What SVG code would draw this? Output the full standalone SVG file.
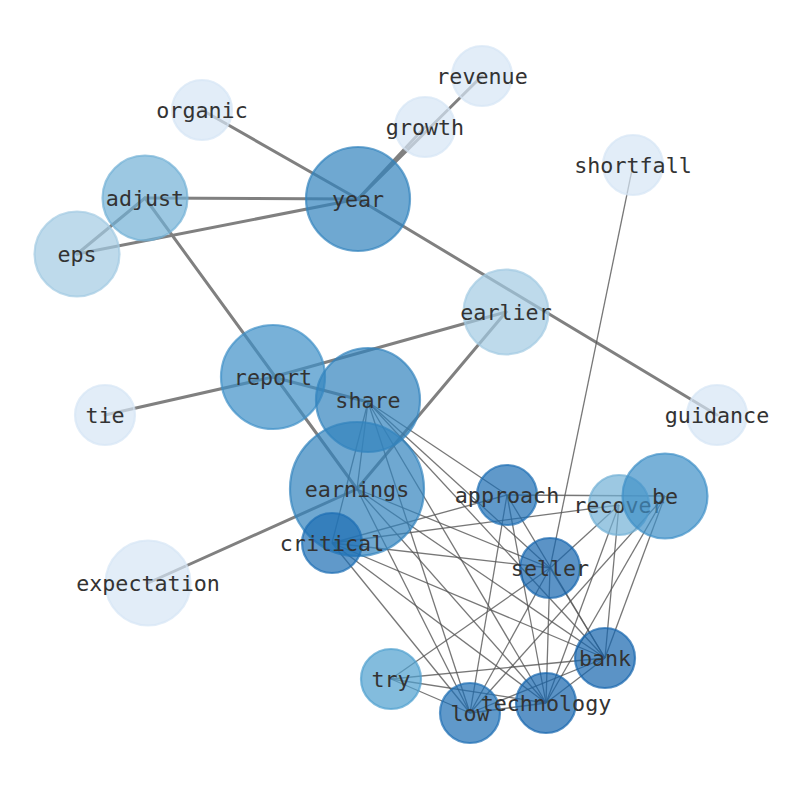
<svg xmlns="http://www.w3.org/2000/svg" width="794" height="790" viewBox="0 0 794 790">
<style>
.bg{fill:#ffffff}
.e1{stroke:#808080;stroke-width:3;fill:none;stroke-linecap:round}
.e2{stroke:#555555;stroke-opacity:0.8;stroke-width:1.3;fill:none}
.n circle{fill-opacity:0.7;stroke-opacity:0.7;stroke-width:2.2}
.n text{font-family:"DejaVu Sans Mono","Liberation Mono",monospace;font-size:21.7px;fill:#333333;text-anchor:middle;dominant-baseline:central}
.c0 circle{fill:#d6e6f5;stroke:#d6e6f5}
.c1 circle{fill:#a2cbe2;stroke:#a2cbe2}
.c2 circle{fill:#72b0d6;stroke:#72b0d6}
.c3 circle{fill:#4f9fce;stroke:#4f9fce}
.c4 circle{fill:#3e90c7;stroke:#3e90c7}
.c5 circle{fill:#3283bd;stroke:#3283bd}
.c6 circle{fill:#1d6db3;stroke:#1d6db3}
.c7 circle{fill:#1565ae;stroke:#1565ae}
</style>
<rect class="bg" x="0" y="0" width="794" height="790"/>
<g id="edges">
<line class="e1" x1="202" y1="110" x2="358" y2="199"/>
<line class="e1" x1="482" y1="76" x2="358" y2="199"/>
<line class="e1" x1="425" y1="127" x2="358" y2="199"/>
<line class="e1" x1="145" y1="198" x2="358" y2="199"/>
<line class="e1" x1="77" y1="254" x2="358" y2="199"/>
<line class="e1" x1="145" y1="198" x2="77" y2="254"/>
<line class="e1" x1="358" y1="199" x2="717" y2="415"/>
<line class="e1" x1="145" y1="198" x2="357" y2="489"/>
<line class="e1" x1="273" y1="377" x2="506" y2="312"/>
<line class="e1" x1="105" y1="415" x2="273" y2="377"/>
<line class="e1" x1="273" y1="377" x2="368" y2="402"/>
<line class="e1" x1="506" y1="312" x2="357" y2="489"/>
<line class="e1" x1="357" y1="489" x2="148" y2="583"/>
<line class="e2" x1="633" y1="165" x2="550" y2="568"/>
<line class="e2" x1="368" y1="402" x2="357" y2="489"/>
<line class="e2" x1="368" y1="402" x2="332" y2="543"/>
<line class="e2" x1="368" y1="402" x2="507" y2="495"/>
<line class="e2" x1="368" y1="402" x2="550" y2="568"/>
<line class="e2" x1="368" y1="402" x2="605" y2="658"/>
<line class="e2" x1="368" y1="402" x2="470" y2="713"/>
<line class="e2" x1="368" y1="402" x2="546" y2="703"/>
<line class="e2" x1="357" y1="489" x2="550" y2="568"/>
<line class="e2" x1="357" y1="489" x2="605" y2="658"/>
<line class="e2" x1="357" y1="489" x2="470" y2="713"/>
<line class="e2" x1="357" y1="489" x2="546" y2="703"/>
<line class="e2" x1="332" y1="543" x2="507" y2="495"/>
<line class="e2" x1="332" y1="543" x2="619" y2="505"/>
<line class="e2" x1="332" y1="543" x2="550" y2="568"/>
<line class="e2" x1="332" y1="543" x2="605" y2="658"/>
<line class="e2" x1="332" y1="543" x2="546" y2="703"/>
<line class="e2" x1="332" y1="543" x2="470" y2="713"/>
<line class="e2" x1="507" y1="495" x2="665" y2="496"/>
<line class="e2" x1="507" y1="495" x2="605" y2="658"/>
<line class="e2" x1="507" y1="495" x2="470" y2="713"/>
<line class="e2" x1="507" y1="495" x2="546" y2="703"/>
<line class="e2" x1="619" y1="505" x2="550" y2="568"/>
<line class="e2" x1="619" y1="505" x2="605" y2="658"/>
<line class="e2" x1="619" y1="505" x2="546" y2="703"/>
<line class="e2" x1="665" y1="496" x2="470" y2="713"/>
<line class="e2" x1="665" y1="496" x2="546" y2="703"/>
<line class="e2" x1="665" y1="496" x2="605" y2="658"/>
<line class="e2" x1="550" y1="568" x2="605" y2="658"/>
<line class="e2" x1="550" y1="568" x2="546" y2="703"/>
<line class="e2" x1="550" y1="568" x2="470" y2="713"/>
<line class="e2" x1="550" y1="568" x2="391" y2="679"/>
<line class="e2" x1="391" y1="679" x2="605" y2="658"/>
<line class="e2" x1="391" y1="679" x2="546" y2="703"/>
<line class="e2" x1="391" y1="679" x2="470" y2="713"/>
<line class="e2" x1="605" y1="658" x2="546" y2="703"/>
<line class="e2" x1="605" y1="658" x2="470" y2="713"/>
<line class="e2" x1="470" y1="713" x2="546" y2="703"/>
</g>
<g id="revenue" class="n c0"><circle cx="482" cy="76" r="30"/><text x="482" y="76">revenue</text></g>
<g id="organic" class="n c0"><circle cx="202" cy="110" r="30"/><text x="202" y="110">organic</text></g>
<g id="growth" class="n c0"><circle cx="425" cy="127" r="30"/><text x="425" y="127">growth</text></g>
<g id="shortfall" class="n c0"><circle cx="633" cy="165" r="30"/><text x="633" y="165">shortfall</text></g>
<g id="year" class="n c5"><circle cx="358" cy="199" r="52"/><text x="358" y="199">year</text></g>
<g id="adjust" class="n c2"><circle cx="145" cy="198" r="42.5"/><text x="145" y="198">adjust</text></g>
<g id="eps" class="n c1"><circle cx="77" cy="254" r="42.5"/><text x="77" y="254">eps</text></g>
<g id="earlier" class="n c1"><circle cx="506" cy="312" r="42.5"/><text x="506" y="312">earlier</text></g>
<g id="report" class="n c4"><circle cx="273" cy="377" r="52"/><text x="273" y="377">report</text></g>
<g id="share" class="n c5"><circle cx="368" cy="400" r="52"/><text x="368" y="400">share</text></g>
<g id="tie" class="n c0"><circle cx="105" cy="415" r="30"/><text x="105" y="415">tie</text></g>
<g id="guidance" class="n c0"><circle cx="717" cy="415" r="30"/><text x="717" y="415">guidance</text></g>
<g id="earnings" class="n c5"><circle cx="357" cy="489" r="67"/><text x="357" y="489">earnings</text></g>
<g id="approach" class="n c6"><circle cx="507" cy="495" r="30"/><text x="507" y="495">approach</text></g>
<g id="recover" class="n c2"><circle cx="619" cy="505" r="30"/><text x="619" y="505">recover</text></g>
<g id="be" class="n c4"><circle cx="665" cy="496" r="42.5"/><text x="665" y="496">be</text></g>
<g id="critical" class="n c6"><circle cx="332" cy="543" r="30"/><text x="332" y="543">critical</text></g>
<g id="expectation" class="n c0"><circle cx="148" cy="583" r="42.5"/><text x="148" y="583">expectation</text></g>
<g id="seller" class="n c7"><circle cx="550" cy="568" r="30"/><text x="550" y="568">seller</text></g>
<g id="bank" class="n c7"><circle cx="605" cy="658" r="30"/><text x="605" y="658">bank</text></g>
<g id="try" class="n c3"><circle cx="391" cy="679" r="30"/><text x="391" y="679">try</text></g>
<g id="low" class="n c6"><circle cx="470" cy="713" r="30"/><text x="470" y="713">low</text></g>
<g id="technology" class="n c7"><circle cx="546" cy="703" r="30"/><text x="546" y="703">technology</text></g>
</svg>
